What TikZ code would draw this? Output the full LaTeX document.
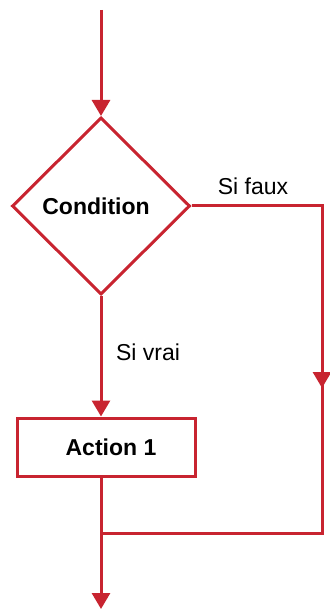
\documentclass[tikz,border=0pt]{standalone}
\usepackage{fontspec}
\setmainfont{Liberation Sans}
\usetikzlibrary{shapes.geometric,arrows.meta}
\definecolor{flowred}{RGB}{200,36,48}

\begin{document}
\begin{tikzpicture}
[
	x=1pt,
	y=-1pt,
	line/.style={draw=flowred,line width=3pt},
	flow/.style={line,-{Triangle[width=18pt,length=16pt]}},
	cond/.style={diamond,line,line join=miter,inner sep=0pt,minimum width=178pt,minimum height=177pt,font=\fontsize{23}{27}\selectfont\bfseries},
	act/.style={rectangle,line,inner sep=0pt,minimum width=178pt,minimum height=58pt,font=\fontsize{23}{27}\selectfont\bfseries},
	lbl/.style={inner sep=0pt,font=\fontsize{23}{27}\selectfont}
]

	\useasboundingbox (0,0) rectangle (329,609);

	\node[cond] (cond) at (101,206) {\hspace*{-10pt}Condition};
	\node[act] (act) at (106,447) {\hspace*{10pt}Action 1};

	\coordinate (start) at (101,10);
	\coordinate (rmid) at (322,388);
	\coordinate (join) at (101,533);
	\coordinate (stop) at (101,609);

	% branches
	\draw[flow] (start) -- (cond.north);
	\draw[flow] (cond.south) -- (cond.south |- act.north);
	\draw[line,line join=miter] (cond.east) -| (rmid) |- (join);
	\draw[flow] (cond.east) -| (rmid);
	\draw[flow] (act.south -| join) -- (stop);

	\node[lbl] (faux) at (253,186) {Si faux};
	\node[lbl] (vrai) at (148,352) {Si vrai};

\end{tikzpicture}
\end{document}
